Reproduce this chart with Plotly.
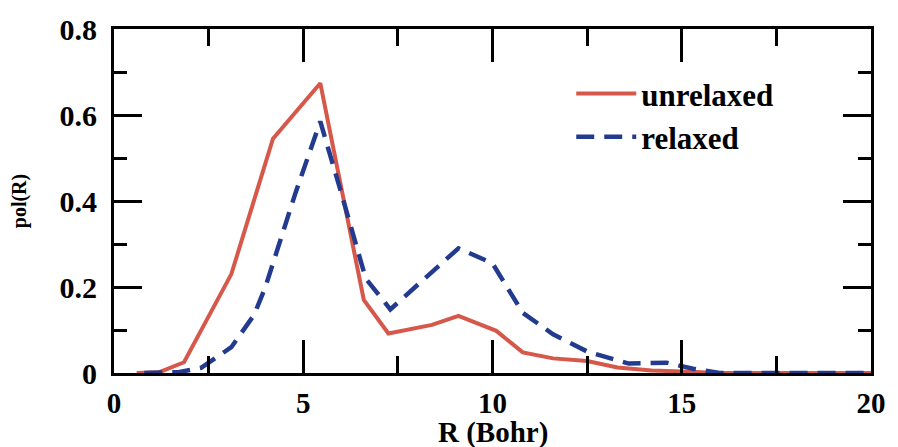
import plotly.graph_objects as go

# unrelaxed (red, solid)
r_unrelaxed = [0.6, 1.2, 1.85, 3.1, 4.2, 5.45, 6.6, 7.25, 8.4, 9.1, 10.1, 10.8, 11.6, 12.5, 13.3, 14.2, 15.2, 16.0, 20.0]
pol_unrelaxed = [0.0, 0.002, 0.025, 0.23, 0.545, 0.674, 0.17, 0.092, 0.112, 0.133, 0.098, 0.048, 0.034, 0.028, 0.013, 0.006, 0.003, 0.0, 0.0]

# relaxed (blue, dashed)
r_relaxed = [0.8, 1.7, 2.3, 3.1, 3.7, 4.0, 4.8, 5.45, 6.0, 6.65, 7.3, 8.2, 9.1, 10.0, 10.8, 11.6, 12.5, 13.6, 14.6, 15.3, 16.0, 20.0]
pol_relaxed = [0.0, 0.002, 0.012, 0.06, 0.135, 0.2, 0.42, 0.585, 0.42, 0.22, 0.148, 0.22, 0.29, 0.255, 0.14, 0.09, 0.05, 0.022, 0.024, 0.01, 0.0, 0.0]

x_ticks = [0, 5, 10, 15, 20]
y_ticks = [0, 0.2, 0.4, 0.6, 0.8]
y_ticktext = ["0", "0.2", "0.4", "0.6", "0.8"]

FONT = "Times New Roman"

fig = go.Figure()
fig.add_trace(go.Scatter(x=r_unrelaxed, y=pol_unrelaxed, mode="lines", name="unrelaxed",
                         line=dict(color="#D6584B", width=4)))
fig.add_trace(go.Scatter(x=r_relaxed, y=pol_relaxed, mode="lines", name="relaxed",
                         line=dict(color="#233B8E", width=4.5, dash="18px,10px")))

fig.update_layout(
    width=898, height=447,
    margin=dict(l=114, r=18, t=23, b=74),
    paper_bgcolor="white", plot_bgcolor="white",
    font=dict(color="black"),
    showlegend=True,
    legend=dict(x=0.604, y=0.89, xanchor="left", yanchor="top",
                bgcolor="rgba(0,0,0,0)", font=dict(family=FONT, size=31, weight="bold"),
                itemwidth=60, tracegroupgap=0),
)
fig.update_xaxes(
    range=[0, 20], tickvals=x_ticks,
    showgrid=False, zeroline=False,
    showline=True, linecolor="black", linewidth=3, mirror="allticks",
    ticks="inside", ticklen=33, tickwidth=3, tickcolor="black",
    minor=dict(dtick=2.5, ticks="inside", ticklen=17, tickwidth=3, tickcolor="black", showgrid=False),
    tickfont=dict(family=FONT, size=29, weight="bold"),
    ticklabelstandoff=2,
)
fig.update_yaxes(
    range=[0, 0.8], tickvals=y_ticks, ticktext=y_ticktext,
    showgrid=False, zeroline=False,
    showline=True, linecolor="black", linewidth=3, mirror="allticks",
    ticks="inside", ticklen=28, tickwidth=3, tickcolor="black",
    minor=dict(dtick=0.1, ticks="inside", ticklen=13, tickwidth=3, tickcolor="black", showgrid=False),
    tickfont=dict(family=FONT, size=30, weight="bold"),
    ticklabelstandoff=8,
    title=dict(text="pol(R)", font=dict(family=FONT, size=20, weight="bold"), standoff=28),
)
# x-axis title placed just under the tick labels, as in the reference
fig.add_annotation(x=0.5, y=-0.172, xref="paper", yref="paper", showarrow=False,
                   xanchor="center", yanchor="middle", text="R (Bohr)",
                   font=dict(family=FONT, size=29, weight="bold", color="black"))

fig.write_html("out.html")
